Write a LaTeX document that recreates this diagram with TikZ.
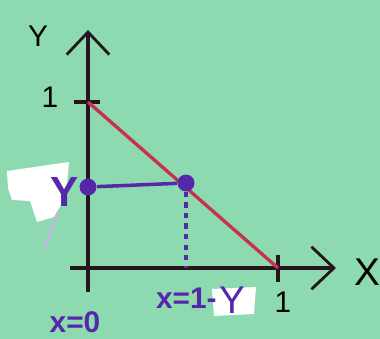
\documentclass[tikz,border=0pt]{standalone}
\usepackage{fontspec}
\setmainfont{Liberation Sans}
\usetikzlibrary{arrows.meta}
\definecolor{paper}{RGB}{142,218,176}
\definecolor{pen}{RGB}{35,22,30}
\definecolor{redpen}{RGB}{200,50,75}
\definecolor{purplepen}{RGB}{85,40,170}
\tikzset{
  axis/.style={draw=pen,line width=1.8pt,-{Straight Barb[length=4.5mm,width=8.5mm,line width=1.6pt]}},
  tick/.style={draw=pen,line width=1.8pt},
  lbl/.style={font=\fontsize{17}{17}\selectfont,inner sep=0pt},
  dot/.style={circle,fill=purplepen,minimum size=3.4mm,inner sep=0pt}
}
\begin{document}
\begin{tikzpicture}[x=0.02cm,y=-0.02cm]
\useasboundingbox (0,0) rectangle (380,339);
\fill[paper] (0,0) rectangle (380,339);
% white patches
\fill[white] (7,171) -- (69,162) -- (66,196) -- (54,217) -- (37,222) -- (30,201) -- (12,200) -- (8,188) -- cycle;
\fill[white] (212,289) -- (256,287) -- (254,314) -- (214,316) -- cycle;
% faint stroke
\draw[purplepen!35,line width=1.5pt] (58,212) -- (44,250);
% axes
\coordinate (O) at (88,268);
\coordinate (ytop) at (88,30);
\coordinate (ybot) at (88,292);
\coordinate (xleft) at (70,268);
\coordinate (xend) at (336,268);
\draw[axis] (ybot) -- (ytop);
\draw[axis] (xleft) -- (xend);
\node[lbl] (ylabel) at (38,36) {Y};
\node[lbl,font=\fontsize{22}{22}\selectfont] (xlabel) at (367,272) {X};
% ticks
\coordinate (y1) at (88,102);
\coordinate (x1) at (278,268);
\draw[tick] (74,102) -- (100,102);
\draw[tick] (278,255) -- (278,282);
\node[lbl] (yone) at (50,97) {1};
\node[lbl] (xone) at (283,302) {1};
% line x+y=1
\draw[redpen,line width=1.9pt] (y1) -- (x1);
% slice at height y
\node[dot] (left) at (88,187) {};
\node[dot] (right) at (186,183) {};
\coordinate (foot) at (186,268);
\draw[purplepen,line width=2pt] (left) -- (right);
\draw[purplepen,line width=1.8pt,dash pattern=on 3pt off 3pt] (right) -- (foot);
% labels
\node[lbl,text=purplepen,font=\bfseries\fontsize{24}{24}\selectfont] (yval) at (65,192) {Y};
\node[lbl,text=purplepen,font=\bfseries\fontsize{17}{17}\selectfont] (xzero) at (75,322) {x=0};
\node[lbl,text=purplepen,font=\bfseries\fontsize{17}{17}\selectfont,anchor=east] (xline) at (217,298) {x=1-};
\node[lbl,text=purplepen,font=\fontsize{22}{22}\selectfont] (xliney) at (232,300) {Y};
\end{tikzpicture}
\end{document}
